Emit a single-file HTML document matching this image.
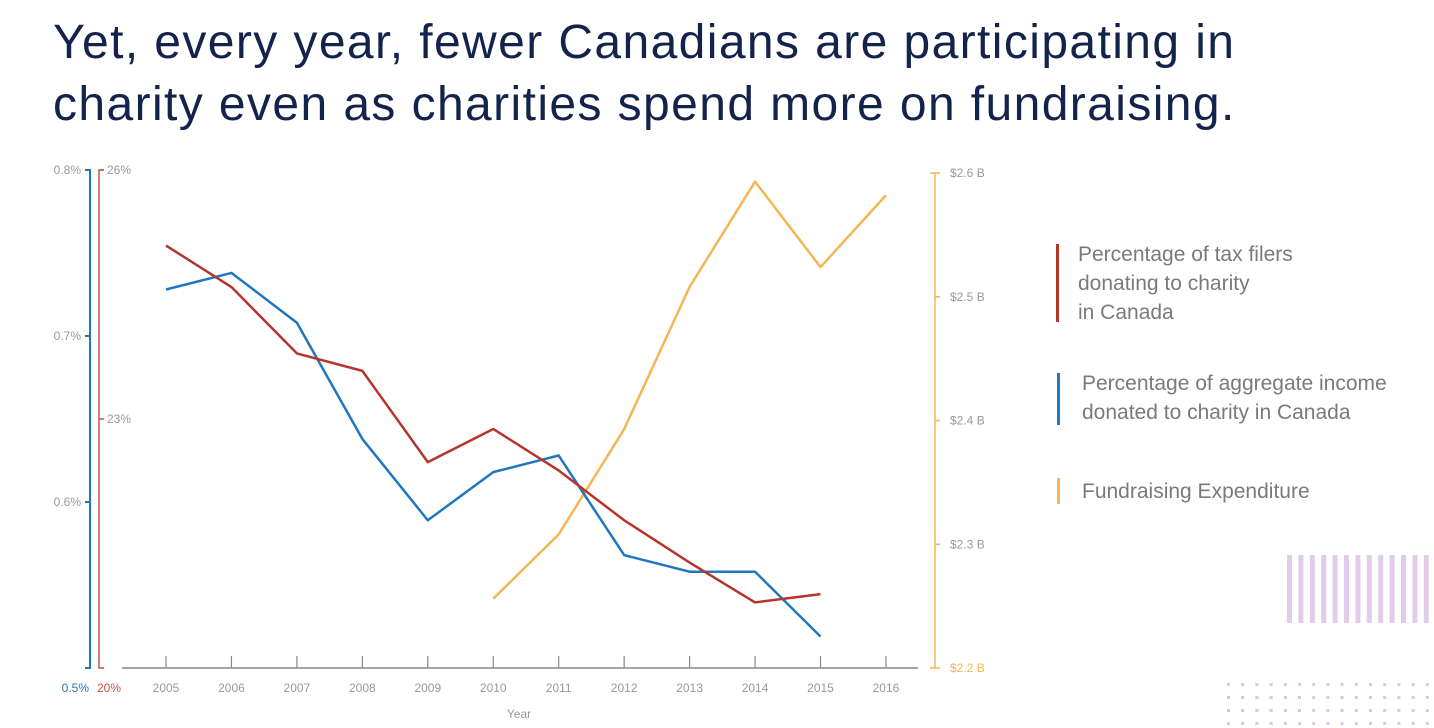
<!DOCTYPE html>
<html><head><meta charset="utf-8"><style>
body{margin:0;background:#fff;width:1434px;height:728px;overflow:hidden;font-family:"Liberation Sans",sans-serif}
h1{position:absolute;left:53px;top:12px;margin:0;font-size:48px;font-weight:normal;color:#13234b;line-height:62px;letter-spacing:1.4px;white-space:nowrap}
.leg{position:absolute;color:#7a7a7a;font-size:21px;line-height:29px}
.lb{position:absolute;width:3px}
</style></head><body>
<h1>Yet, every year, fewer Canadians are participating in<br>charity even as charities spend more on fundraising.</h1>
<svg id="c" width="1434" height="728" style="position:absolute;left:0;top:0"></svg>
<div class="lb" style="left:1056px;top:244px;height:78px;background:#b5352b"></div>
<div class="leg" style="left:1078px;top:240px">Percentage of tax filers<br>donating to charity<br>in Canada</div>
<div class="lb" style="left:1057px;top:373px;height:52px;background:#1f77c0"></div>
<div class="leg" style="left:1082px;top:369px">Percentage of aggregate income<br>donated to charity in Canada</div>
<div class="lb" style="left:1057px;top:478px;height:26px;background:#f6b554"></div>
<div class="leg" style="left:1082px;top:477px">Fundraising Expenditure</div>
<script>
const years=[2005,2006,2007,2008,2009,2010,2011,2012,2013,2014,2015,2016];
const incomePct=[0.728,0.738,0.708,0.638,0.589,0.618,0.628,0.568,0.558,0.558,0.519];
const filersPct=[25.09,24.59,23.79,23.58,22.48,22.88,22.38,21.78,21.27,20.79,20.89];
const fundYears=[2010,2011,2012,2013,2014,2015,2016];
const fundB=[2.256,2.308,2.393,2.508,2.593,2.524,2.582];
const blueTicks=[0.8,0.7,0.6];
const redTicks=[26,23];
const orangeTicks=[2.6,2.5,2.4,2.3,2.2];
const NS='http://www.w3.org/2000/svg',svg=document.getElementById('c');
const X=y=>166+(y-2005)*65.45;
const YB=v=>668-(v-0.5)/0.3*498;
const YR=v=>668-(v-20)/6*498;
const YO=v=>668-(v-2.2)/0.4*495;
function el(t,a,p){const e=document.createElementNS(NS,t);for(const k in a)e.setAttribute(k,a[k]);(p||svg).appendChild(e);return e;}
function txt(x,y,s,c,anchor,sz){const t=el('text',{x:x,y:y,fill:c,'font-size':sz||12,'text-anchor':anchor||'start','font-family':'Liberation Sans, sans-serif'});t.textContent=s;return t;}
for(let i=0;i<13;i++){const r=el('rect',{x:1287+i*11.4,y:555,width:5,height:68,fill:'#e2cde8'});}
for(let j=0;j<4;j++)for(let i=0;i<15;i++){const r=el('rect',{x:1227+i*14.2,y:683+j*13,width:3,height:3,fill:'#dcc7e4'});}
let a=el('path',{d:'M85 170H90V668H85',stroke:'#1f77c0','stroke-width':2,fill:'none'});
blueTicks.forEach(v=>{el('line',{x1:85,x2:90,y1:YB(v),y2:YB(v),stroke:'#1f77c0','stroke-width':2});const t=txt(81,YB(v)+4,v.toFixed(1)+'%','#999','end');});
let t0=txt(89,692,'0.5%','#1f77c0','end');
a=el('path',{d:'M104 170H99V668H104',stroke:'#c9524a','stroke-width':1.5,fill:'none'});
redTicks.forEach(v=>{el('line',{x1:99,x2:104,y1:YR(v),y2:YR(v),stroke:'#c9524a','stroke-width':1.5});const t=txt(107,YR(v)+4,v+'%','#999');});
t0=txt(97,692,'20%','#c9524a');
a=el('line',{x1:122,x2:918,y1:668,y2:668,stroke:'#888','stroke-width':1.5});
years.forEach(y=>{el('line',{x1:X(y),x2:X(y),y1:656,y2:668,stroke:'#888','stroke-width':1.2});const t=txt(X(y),692,y,'#999','middle');});
t0=txt(519,718,'Year','#999','middle');
a=el('path',{d:'M930 173H935V668H930',stroke:'#f6b554','stroke-width':1.5,fill:'none'});
orangeTicks.forEach((v,i)=>{const y=i==0?173:YO(v);el('line',{x1:935,x2:940,y1:y,y2:y,stroke:'#f6b554','stroke-width':1.5});const t=txt(950,y+4,'$'+v.toFixed(1)+' B',i==4?'#f6b554':'#999');});
function line(xs,vs,f,c,name){const d=vs.map((v,i)=>(i?'L':'M')+X(xs[i])+' '+f(v)).join('');const p=el('path',{d:d,stroke:c,'stroke-width':2.5,fill:'none','stroke-linejoin':'round'});}
line(fundYears,fundB,YO,'#f6b554','line-fundraising');
line(years,incomePct,YB,'#1f77c0','line-income');
line(years,filersPct,YR,'#b5352b','line-filers');
</script>
</body></html>
